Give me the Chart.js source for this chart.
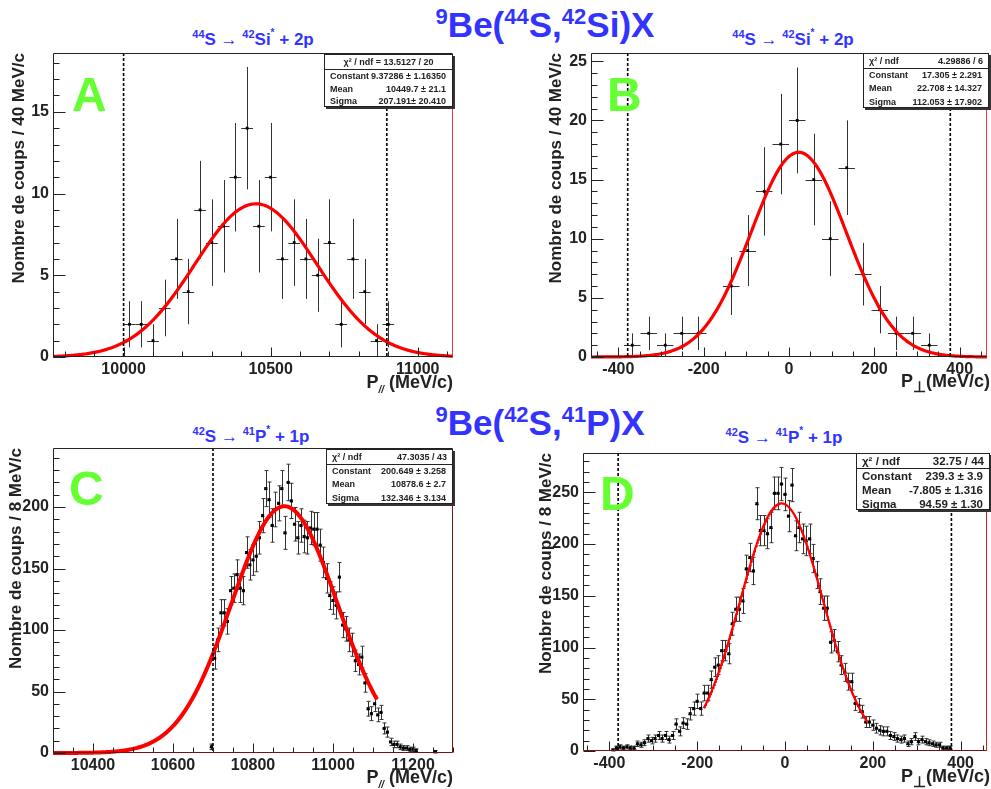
<!DOCTYPE html>
<html>
<head>
<meta charset="utf-8">
<script src="https://cdn.jsdelivr.net/npm/chart.js@4.4.0/dist/chart.umd.min.js"></script>
<style>
  body { margin: 0; background: #fff; }
  #page { position: relative; width: 991px; height: 789px; overflow: hidden; background: #fff;
          font-family: "Liberation Sans", Arial, sans-serif; }
  canvas { position: absolute; }
  .t { position: absolute; white-space: nowrap; line-height: 1; font-weight: bold; }
  .t sup, .t sub { line-height: 0; }
  .blue { color: #3333ff; }
  .green { color: #66ff33; }
  .ytitle { position: absolute; white-space: nowrap; font-weight: bold; font-size: 17px; line-height: 20px;
            text-align: right; color: #222; transform-origin: 0 0; transform: rotate(-90deg); }
  .stats { position: absolute; background: #fff; border: 1px solid #222; box-shadow: 2px 2px 0 #333;
           box-sizing: border-box; font-weight: bold; color: #222; white-space: nowrap; }
  .stats .hd { border-bottom: 1px solid #222; display: flex; justify-content: space-between; padding: 0 5px; }
  .stats .row { display: flex; justify-content: space-between; padding: 0 6px 0 5px; }
  .stats span { white-space: nowrap; }
</style>
</head>
<body>
<div id="page">
  <div class="t blue" style="font-size:35px;left:545px;top:7px;transform:translateX(-50%)"><sup style="font-size:22px">9</sup>Be(<sup style="font-size:22px">44</sup>S,<sup style="font-size:22px">42</sup>Si)X</div>
  <div class="t blue" style="font-size:35px;left:540px;top:405px;transform:translateX(-50%)"><sup style="font-size:22px">9</sup>Be(<sup style="font-size:22px">42</sup>S,<sup style="font-size:22px">41</sup>P)X</div>

  <div class="t blue" style="font-size:17px;left:253px;top:31px;transform:translateX(-50%)"><sup style="font-size:11px">44</sup>S <span style="font-weight:normal">&rarr;</span> <sup style="font-size:11px">42</sup>Si<sup style="font-size:10px;vertical-align:0.9em">*</sup> + 2p</div>
  <div class="t blue" style="font-size:17px;left:793px;top:31px;transform:translateX(-50%)"><sup style="font-size:11px">44</sup>S <span style="font-weight:normal">&rarr;</span> <sup style="font-size:11px">42</sup>Si<sup style="font-size:10px;vertical-align:0.9em">*</sup> + 2p</div>
  <div class="t blue" style="font-size:17px;left:251px;top:428px;transform:translateX(-50%)"><sup style="font-size:11px">42</sup>S <span style="font-weight:normal">&rarr;</span> <sup style="font-size:11px">41</sup>P<sup style="font-size:10px;vertical-align:0.9em">*</sup> + 1p</div>
  <div class="t blue" style="font-size:17px;left:784px;top:429px;transform:translateX(-50%)"><sup style="font-size:11px">42</sup>S <span style="font-weight:normal">&rarr;</span> <sup style="font-size:11px">41</sup>P<sup style="font-size:10px;vertical-align:0.9em">*</sup> + 1p</div>
</div>

<script>
// ---- panel A : 44S -> 42Si* + 2p, P// ----
const aCenters = [10020, 10060, 10100, 10140, 10180, 10220, 10260, 10300, 10340, 10380, 10420, 10460,
                  10500, 10540, 10580, 10620, 10660, 10700, 10740, 10780, 10820, 10860, 10900];
const aCounts = [2, 2, 1, 3, 6, 4, 9, 7, 8, 11, 14, 8, 11, 6, 7, 6, 5, 7, 2, 6, 4, 1, 2];
const aFit = [9.37286, 10449.7, 207.191];
const aFitRange = [9760, 11120];
const aCuts = [10000, 10895];
const aXTicks = [10000, 10500, 11000];
const aYTicks = [0, 5, 10, 15];
const aStatVals = ["9.37286 ± 1.16350", "10449.7 ± 21.1", "207.191± 20.410"];
const aChi = "χ² / ndf = 13.5127 / 20";

// ---- panel B : 44S -> 42Si* + 2p, P perp ----
const bCenters = [-367.3, -328.7, -290, -251.3, -212.7, -135.3, -96.7, -58, -19.3, 19.3, 58, 96.7,
                  135.3, 174, 212.7, 251.3, 290, 328.7];
const bCounts = [1, 2, 1, 2, 2, 6, 9, 14, 18, 20, 15, 10, 16, 7, 4, 2, 2, 1];
const bFit = [17.305, 22.708, 112.053];
const bFitRange = [-464, 464];
const bCuts = [-378, 378];
const bXTicks = [-400, -200, 0, 200, 400];
const bYTicks = [0, 5, 10, 15, 20, 25];
const bStatVals = ["17.305 ± 2.291", "22.708 ± 14.327", "112.053 ± 17.902"];
const bChi = "4.29886 / 6";

// ---- panel C : 42S -> 41P* + 1p, P// ----
const cCenters = [10696, 10704, 10712, 10720, 10728, 10736, 10744, 10752, 10760, 10768, 10776, 10784,
                  10792, 10800, 10808, 10816, 10824, 10832, 10840, 10848, 10856, 10864, 10872, 10880,
                  10888, 10896, 10904, 10912, 10920, 10928, 10936, 10944, 10952, 10960, 10968, 10976,
                  10984, 10992, 11000, 11008, 11016, 11024, 11032, 11040, 11048, 11056, 11064, 11072,
                  11080, 11088, 11096, 11104, 11112, 11120, 11128, 11136, 11144, 11152, 11160, 11168,
                  11176, 11184, 11192, 11200, 11208, 11256];
const cCounts = [5, 77, 92, 114, 114, 107, 132, 134, 145, 134, 132, 163,
                 153, 157, 160, 175, 193, 215, 206, 185, 198, 203, 215, 179,
                 220, 205, 186, 175, 185, 176, 175, 183, 182, 182, 169, 155,
                 142, 128, 124, 120, 143, 104, 101, 92, 88, 75, 72, 78,
                 57, 36, 32, 40, 31, 33, 20, 17, 9, 7, 7, 5,
                 4, 4, 3, 3, 2, 1];
const cFit = [200.649, 10878.6, 132.346];
const cFitRange = [10300, 11110];
const cCuts = [10700];
const cXTicks = [10400, 10600, 10800, 11000, 11200];
const cYTicks = [0, 50, 100, 150, 200];
const cStatVals = ["200.649 ± 3.258", "10878.6 ± 2.7", "132.346 ± 3.134"];
const cChi = "47.3035 / 43";

// ---- panel D : 42S -> 41P* + 1p, P perp (8 MeV/c bins from -392) ----
const dFirstBin = -392;
const dBinWidth = 8;
const dCounts = [1, 3, 4, 3, 4, 3, 3, 7, 6, 8,
                 12, 10, 12, 15, 12, 15, 11, 15, 26, 19,
                 27, 26, 36, 41, 48, 41, 56, 56, 69, 81,
                 83, 97, 97, 94, 123, 137, 137, 145, 176, 187,
                 174, 239, 213, 213, 210, 216, 249, 249, 258, 248,
                 227, 257, 208, 216, 205, 203, 205, 186, 170, 154,
                 138, 138, 105, 107, 96, 83, 76, 67, 67, 46,
                 44, 38, 28, 28, 25, 22, 20, 19, 19, 15,
                 14, 12, 11, 12, 7, 9, 14, 9, 11, 9,
                 8, 7, 6, 6, 3, 3, 3];
const dCenters = dCounts.map((c, i) => dFirstBin + i * dBinWidth);
const dFit = [239.3, -7.805, 94.59];
const dFitRange = [-185, 187];
const dCuts = [-380, 379];
const dXTicks = [-400, -200, 0, 200, 400];
const dYTicks = [0, 50, 100, 150, 200, 250];
const dStatVals = ["239.3 ± 3.9", "-7.805 ± 1.316", "94.59 ± 1.30"];
const dChi = "32.75 / 44";

const statLabels = ["Constant", "Mean", "Sigma"];

const page = document.getElementById("page");

function gauss(fit, x) {
  return fit[0] * Math.exp(-0.5 * Math.pow((x - fit[1]) / fit[2], 2));
}

function makePanel(p) {
  const cv = document.createElement("canvas");
  cv.width = p.box[2];
  cv.height = p.box[3];
  cv.style.left = p.box[0] + "px";
  cv.style.top = p.box[1] + "px";
  page.appendChild(cv);

  // fitted gaussian, evaluated from the fit parameters shown in the stats box
  const curve = [];
  for (let i = 0; i <= 300; i++) {
    const x = p.fitRange[0] + (p.fitRange[1] - p.fitRange[0]) * i / 300;
    curve.push({ x: x, y: gauss(p.fit, x) });
  }

  const tickFont = { family: '"Liberation Sans", Arial, sans-serif', size: 16, weight: "bold" };

  const rootStyle = {
    id: "rootStyle",
    beforeDatasetsDraw(chart) {
      const { ctx, scales: { x, y } } = chart;
      ctx.save();
      ctx.strokeStyle = "#333";
      ctx.lineWidth = 1;
      p.xs.forEach((xv, i) => {
        const yv = p.ys[i];
        const e = Math.sqrt(yv);
        const px = Math.round(x.getPixelForValue(xv)) + 0.5;
        const py = Math.round(y.getPixelForValue(yv)) + 0.5;
        const y1 = y.getPixelForValue(yv + e);
        const y0 = y.getPixelForValue(Math.max(yv - e, 0));
        ctx.beginPath();
        ctx.moveTo(x.getPixelForValue(xv - p.half), py);
        ctx.lineTo(x.getPixelForValue(xv + p.half), py);
        ctx.moveTo(px, y1);
        ctx.lineTo(px, y0);
        if (p.cap) {
          ctx.moveTo(px - p.cap, y1); ctx.lineTo(px + p.cap, y1);
          ctx.moveTo(px - p.cap, y0); ctx.lineTo(px + p.cap, y0);
        }
        ctx.stroke();
      });
      ctx.restore();
    },
    afterDatasetsDraw(chart) {
      const { ctx, chartArea: a, scales: { x } } = chart;
      ctx.save();
      ctx.strokeStyle = "#000";
      ctx.lineWidth = 1.6;
      ctx.setLineDash([3, 2]);
      p.cuts.forEach(c => {
        const px = x.getPixelForValue(c);
        ctx.beginPath();
        ctx.moveTo(px, a.top);
        ctx.lineTo(px, a.bottom);
        ctx.stroke();
      });
      ctx.restore();
    },
    afterDraw(chart) {
      const { ctx, chartArea: a, scales: { x, y } } = chart;
      const L = Math.round(a.left) + 0.5, R = Math.round(a.right) - 0.5;
      const T = Math.round(a.top) + 0.5, B = Math.round(a.bottom) - 0.5;
      ctx.save();
      ctx.lineWidth = 1;
      ctx.strokeStyle = "#222";
      ctx.beginPath();
      ctx.moveTo(L, B); ctx.lineTo(L, T); ctx.lineTo(R, T);
      ctx.stroke();
      ctx.strokeStyle = p.rightColor;
      ctx.beginPath(); ctx.moveTo(R, T); ctx.lineTo(R, B); ctx.stroke();
      ctx.strokeStyle = p.bottomColor;
      ctx.beginPath(); ctx.moveTo(L, B); ctx.lineTo(R, B); ctx.stroke();

      ctx.strokeStyle = "#222";
      ctx.beginPath();
      for (let v = Math.ceil(x.min / p.xMinor) * p.xMinor; v <= x.max; v += p.xMinor) {
        const px = Math.round(x.getPixelForValue(v)) + 0.5;
        const len = p.xTicks.includes(v) ? 9 : 5;
        ctx.moveTo(px, B); ctx.lineTo(px, B - len);
      }
      for (let v = 0; v <= y.max; v += p.yMinor) {
        const py = Math.round(y.getPixelForValue(v)) + 0.5;
        const len = p.yTicks.includes(v) ? 12 : 6;
        ctx.moveTo(L, py); ctx.lineTo(L + len, py);
      }
      ctx.stroke();
      ctx.restore();
    }
  };

  new Chart(cv, {
    type: "scatter",
    data: {
      datasets: [
        { type: "line", data: curve, borderColor: "#ff0000", borderWidth: p.fitWidth,
          pointRadius: 0, tension: 0, clip: 6 },
        { data: p.xs.map((xv, i) => ({ x: xv, y: p.ys[i] })), pointStyle: "rect",
          pointRadius: p.marker, backgroundColor: "#000", borderColor: "#000", borderWidth: 0 }
      ]
    },
    options: {
      responsive: false,
      animation: false,
      events: [],
      layout: { padding: { top: p.padTop, right: p.padRight, bottom: 0, left: 0 } },
      plugins: { legend: { display: false }, tooltip: { enabled: false } },
      scales: {
        x: {
          type: "linear", min: p.xRange[0], max: p.xRange[1],
          afterBuildTicks: s => { s.ticks = p.xTicks.map(v => ({ value: v })); },
          afterFit: s => { s.height = p.xAxisH; },
          grid: { display: false, drawTicks: false },
          border: { display: false },
          ticks: { font: tickFont, color: "#222", padding: 3, maxRotation: 0, autoSkip: false,
                   callback: v => String(v) }
        },
        y: {
          type: "linear", min: 0, max: p.yMax,
          afterBuildTicks: s => { s.ticks = p.yTicks.map(v => ({ value: v })); },
          afterFit: s => { s.width = p.yAxisW; },
          grid: { display: false, drawTicks: false },
          border: { display: false },
          ticks: { font: tickFont, color: "#222", padding: 4, autoSkip: false,
                   callback: v => String(v) }
        }
      }
    },
    plugins: [rootStyle]
  });
}

function makeStats(s) {
  const box = document.createElement("div");
  box.className = "stats";
  box.style.cssText = `left:${s.pos[0]}px;top:${s.pos[1]}px;width:${s.pos[2]}px;height:${s.pos[3]}px;font-size:${s.font}px`;
  const hd = document.createElement("div");
  hd.className = "hd";
  hd.style.height = s.hdH + "px";
  hd.style.lineHeight = s.hdH + "px";
  if (s.centered) {
    hd.style.justifyContent = "center";
    hd.textContent = s.chi;
  } else {
    hd.innerHTML = `<span>χ² / ndf</span><span>${s.chi}</span>`;
  }
  box.appendChild(hd);
  statLabels.forEach((lab, i) => {
    const r = document.createElement("div");
    r.className = "row";
    r.style.height = s.rowH + "px";
    r.style.lineHeight = s.rowH + "px";
    r.innerHTML = `<span>${lab}</span><span>${s.vals[i]}</span>`;
    box.appendChild(r);
  });
  page.appendChild(box);
}

function addHtml(html) {
  page.insertAdjacentHTML("beforeend", html);
}

makePanel({ box: [0, 0, 495, 395], xs: aCenters, ys: aCounts, half: 20, cap: 0, marker: 2,
  fit: aFit, fitRange: aFitRange, fitWidth: 3.2, cuts: aCuts,
  xRange: [9760, 11120], yMax: 18.6, xTicks: aXTicks, yTicks: aYTicks, xMinor: 100, yMinor: 1,
  padTop: 53, padRight: 42, xAxisH: 38, yAxisW: 53,
  rightColor: "#ff3030", bottomColor: "#222" });

makePanel({ box: [495, 0, 496, 395], xs: bCenters, ys: bCounts, half: 19.33, cap: 0, marker: 2,
  fit: bFit, fitRange: bFitRange, fitWidth: 3.2, cuts: bCuts,
  xRange: [-464, 464], yMax: 25.7, xTicks: bXTicks, yTicks: bYTicks, xMinor: 50, yMinor: 1,
  padTop: 53, padRight: 0, xAxisH: 38, yAxisW: 96,
  rightColor: "#ff3030", bottomColor: "#222" });

makePanel({ box: [0, 395, 495, 394], xs: cCenters, ys: cCounts, half: 4, cap: 2, marker: 2.2,
  fit: cFit, fitRange: cFitRange, fitWidth: 4, cuts: cCuts,
  xRange: [10300, 11300], yMax: 248, xTicks: cXTicks, yTicks: cYTicks, xMinor: 50, yMinor: 10,
  padTop: 53, padRight: 42, xAxisH: 36, yAxisW: 53,
  rightColor: "#7a1010", bottomColor: "#7a1010" });

makePanel({ box: [495, 395, 496, 394], xs: dCenters, ys: dCounts, half: 4, cap: 2, marker: 2.2,
  fit: dFit, fitRange: dFitRange, fitWidth: 2.2, cuts: dCuts,
  xRange: [-460, 460], yMax: 288, xTicks: dXTicks, yTicks: dYTicks, xMinor: 50, yMinor: 10,
  padTop: 58, padRight: 1, xAxisH: 38, yAxisW: 88,
  rightColor: "#e02020", bottomColor: "#7a1010" });

makeStats({ pos: [324, 54, 129, 53], font: 9, hdH: 14, rowH: 12.7, centered: true, chi: aChi, vals: aStatVals });
makeStats({ pos: [863, 53, 126, 55], font: 9, hdH: 14, rowH: 13.3, centered: false, chi: bChi, vals: bStatVals });
makeStats({ pos: [326, 449, 127, 55], font: 9, hdH: 14, rowH: 13.3, centered: false, chi: cChi, vals: cStatVals });
makeStats({ pos: [856, 453, 134, 57], font: 11.5, hdH: 14, rowH: 14, centered: false, chi: dChi, vals: dStatVals });

// green panel letters
addHtml('<div class="t green" style="font-size:48px;left:72px;top:71px">A</div>');
addHtml('<div class="t green" style="font-size:48px;left:607px;top:71px">B</div>');
addHtml('<div class="t green" style="font-size:48px;left:69px;top:465px">C</div>');
addHtml('<div class="t green" style="font-size:48px;left:600px;top:470px">D</div>');

// axis titles
addHtml('<div class="ytitle" style="left:9px;top:357px;width:304px">Nombre de coups / 40 MeV/c</div>');
addHtml('<div class="ytitle" style="left:546px;top:357px;width:304px">Nombre de coups / 40 MeV/c</div>');
addHtml('<div class="ytitle" style="left:6px;top:753px;width:305px">Nombre de coups / 8 MeV/c</div>');
addHtml('<div class="ytitle" style="left:536px;top:751px;width:298px">Nombre de coups / 8 MeV/c</div>');

addHtml('<div class="t" style="font-size:18px;color:#222;left:453px;top:373px;transform:translateX(-100%)">P<sub style="font-size:10px;font-style:italic">//</sub> (MeV/c)</div>');
addHtml('<div class="t" style="font-size:18px;color:#222;left:990px;top:372px;transform:translateX(-100%)">P<sub style="font-size:15px">&perp;</sub>(MeV/c)</div>');
addHtml('<div class="t" style="font-size:18px;color:#222;left:453px;top:768px;transform:translateX(-100%)">P<sub style="font-size:10px;font-style:italic">//</sub> (MeV/c)</div>');
addHtml('<div class="t" style="font-size:18px;color:#222;left:990px;top:767px;transform:translateX(-100%)">P<sub style="font-size:15px">&perp;</sub>(MeV/c)</div>');
</script>
</body>
</html>
